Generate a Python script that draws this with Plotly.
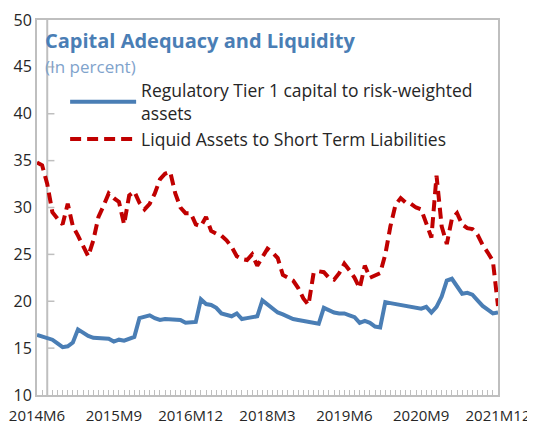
import plotly.graph_objects as go

# ---- data (monthly, 2014M6 .. 2021M12) ----
start_year, start_month = 2014, 6
n_months = 91
tick_labels = ["2014M6", "2015M9", "2016M12", "2018M3", "2019M6", "2020M9", "2021M12"]
tick_index = [0, 15, 30, 45, 60, 75, 90]

tier1_capital = [
    16.4, 16.2, 16.1, 15.9, 15.5, 15.1, 15.2, 15.6, 17.0, 16.6,
    16.3, 16.1, 16.1, 16.1, 16.0, 15.7, 15.9, 15.8, 16.0, 16.2,
    18.2, 18.4, 18.5, 18.2, 18.0, 18.1, 18.1, 18.1, 18.0, 17.7,
    17.8, 17.8, 20.2, 19.7, 19.6, 19.3, 18.7, 18.5, 18.4, 18.7,
    18.1, 18.2, 18.3, 18.4, 20.1, 19.7, 19.2, 18.8, 18.6, 18.3,
    18.1, 18.0, 17.9, 17.8, 17.7, 17.6, 19.3, 19.0, 18.8, 18.7,
    18.7, 18.5, 18.3, 17.7, 17.9, 17.7, 17.3, 17.2, 19.9, 19.8,
    19.7, 19.6, 19.6, 19.5, 19.3, 19.2, 19.4, 18.8, 19.4, 20.5,
    22.2, 22.4, 21.6, 20.8, 20.9, 20.7, 20.1, 19.5, 19.1, 18.7,
    18.8,
]

liquid_assets = [
    34.8, 34.5, 32.5, 29.5, 28.8, 28.2, 30.4, 28.0, 27.0, 26.0,
    24.8, 26.5, 29.0, 30.2, 31.5, 31.0, 30.6, 28.2, 31.3, 31.7,
    30.5, 29.8, 30.4, 31.5, 33.0, 33.6, 33.8, 31.5, 30.0, 29.4,
    29.4, 28.2, 28.0, 29.0, 27.5, 27.2, 27.0, 26.5, 25.8, 24.8,
    24.5, 24.4, 25.0, 23.8, 24.8, 25.6, 25.2, 24.6, 22.8, 22.5,
    22.2, 21.4, 20.3, 19.6, 23.0, 23.2, 23.1, 22.5, 22.3, 23.0,
    24.0, 23.3, 22.5, 21.4, 23.8, 22.5, 22.7, 23.0, 25.0, 28.0,
    30.3, 31.0, 30.5, 30.4, 30.0, 29.8, 28.3, 26.8, 33.4, 28.0,
    26.1, 28.8, 29.4, 28.2, 27.8, 27.7, 27.1, 26.0, 25.2, 24.3,
    19.5,
]

y_ticks = [10, 15, 20, 25, 30, 35, 40, 45, 50]

# month labels for hover
months = []
for k in range(n_months):
    m = start_month - 1 + k
    months.append(f"{start_year + m // 12}M{m % 12 + 1}")
x = list(range(n_months))

BLUE = "#4A7EB5"
RED = "#C00000"
GRID = "#BFBFBF"
FONT = "Open Sans"

fig = go.Figure()
fig.add_trace(go.Scatter(
    x=x, y=tier1_capital, mode="lines", customdata=months,
    name="Regulatory Tier 1 capital to risk-weighted<br>assets",
    line=dict(color=BLUE, width=4),
    hovertemplate="%{customdata}: %{y}<extra></extra>",
))
fig.add_trace(go.Scatter(
    x=x, y=liquid_assets, mode="lines", customdata=months,
    name="Liquid Assets to Short Term Liabilities",
    line=dict(color=RED, width=4, dash="11px,6px"),
    hovertemplate="%{customdata}: %{y}<extra></extra>",
))

# inner vertical axis line with inward ticks (at the 3rd category)
axis_pos = 2
shapes = [dict(type="line", xref="x", yref="y", x0=axis_pos, x1=axis_pos,
               y0=y_ticks[0], y1=y_ticks[-1], line=dict(color=GRID, width=2), layer="below")]
for v in y_ticks[1:-1]:
    shapes.append(dict(type="line", xref="x", yref="y", x0=axis_pos, x1=axis_pos + 1.4,
                       y0=v, y1=v, line=dict(color=GRID, width=1.5), layer="below"))

# page body adds an 8px offset; margins compensate so the plot area sits as in the reference
fig.update_layout(
    width=535, height=435,
    margin=dict(l=29, r=45, t=12, b=48),
    paper_bgcolor="white", plot_bgcolor="white",
    font=dict(family=FONT, size=15, color="#262626"),
    showlegend=True,
    legend=dict(x=0.061, y=0.86, xanchor="left", yanchor="top",
                bgcolor="rgba(0,0,0,0)", font=dict(size=17.5, color="#262626"),
                tracegroupgap=0, itemwidth=66),
    shapes=shapes,
    annotations=[
        dict(text="<b>Capital Adequacy and Liquidity</b>", xref="paper", yref="paper",
             x=0.014, y=0.945, xanchor="left", yanchor="middle", showarrow=False,
             font=dict(size=20, color=BLUE, family=FONT)),
        dict(text="(In percent)", xref="paper", yref="paper",
             x=0.014, y=0.877, xanchor="left", yanchor="middle", showarrow=False,
             font=dict(size=17, color="#7FA3CC", family=FONT)),
    ],
    xaxis=dict(range=[0, n_months - 1], tickvals=tick_index, ticktext=tick_labels,
               showline=True, linecolor=GRID, linewidth=2, mirror=True,
               ticks="inside", ticklen=5, tickcolor=GRID, tickwidth=1,
               minor=dict(dtick=1, ticks="inside", ticklen=5, tickcolor=GRID, tickwidth=1),
               showgrid=False, zeroline=False, automargin=False, ticklabelstandoff=6,
               ticklabeloverflow="allow",
               tickfont=dict(size=15, color="#262626")),
    yaxis=dict(range=[10, 50], tickvals=y_ticks, showline=True, linecolor=GRID,
               linewidth=2, mirror=True, ticks="", showgrid=False, zeroline=False,
               automargin=False, ticklabeloverflow="allow",
               tickfont=dict(size=16, color="#262626")),
)

fig.write_html("out.html")
